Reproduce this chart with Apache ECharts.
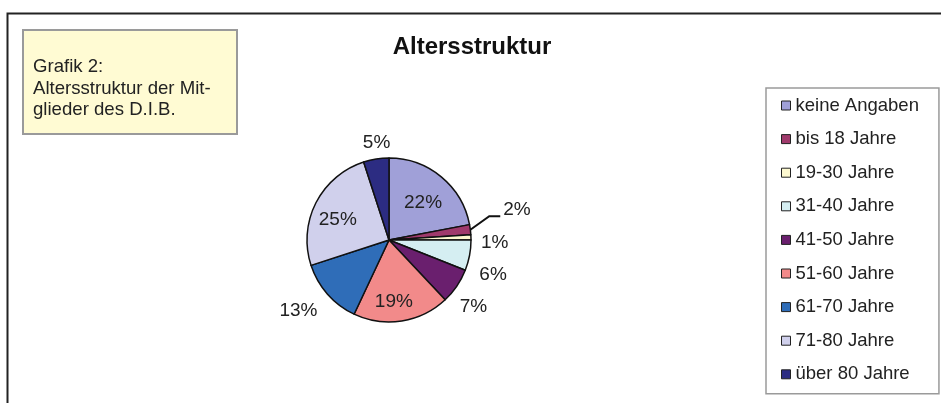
<!DOCTYPE html>
<html>
<head>
<meta charset="utf-8">
<script src="https://cdn.jsdelivr.net/npm/echarts@6/dist/echarts.min.js"></script>
<style>
  html, body { margin: 0; padding: 0; background: #fff; }
  #main { width: 941px; height: 403px; }
</style>
</head>
<body>
<div id="main"></div>
<script>
// Altersstruktur der Mitglieder (Anteile in %)
var categories = ['keine Angaben', 'bis 18 Jahre', '19-30 Jahre', '31-40 Jahre', '41-50 Jahre',
                  '51-60 Jahre', '61-70 Jahre', '71-80 Jahre', 'über 80 Jahre'];
var shares = [22, 2, 1, 6, 7, 19, 13, 25, 5];
var colors = ['#a0a0d8', '#a03a6c', '#fdf9d0', '#d5eef2', '#6a1f6e',
              '#f28a8a', '#2f6db8', '#d0d0ec', '#2c2c82'];
var insideLabels = ['keine Angaben', '51-60 Jahre', '71-80 Jahre'];
var withLeader = ['bis 18 Jahre'];

var font = '"Liberation Sans", Arial, sans-serif';

// kleine Verschiebungen der Beschriftungen (wie im Excel-Original)
var labelNudge = {
    'keine Angaben': [6, -3],
    'bis 18 Jahre': [8, -18],
    '19-30 Jahre': [-15, 6],
    '31-40 Jahre': [-15, 17],
    '41-50 Jahre': [-20, 14],
    '51-60 Jahre': [-2, 18],
    '61-70 Jahre': [12, 9],
    '71-80 Jahre': [-12, 0],
    'über 80 Jahre': [29, -4]
};

var pieData = [];
for (var i = 0; i < categories.length; i++) {
    var inside = insideLabels.indexOf(categories[i]) >= 0;
    pieData.push({
        name: categories[i],
        value: shares[i],
        itemStyle: { color: colors[i] },
        label: { position: inside ? 'inside' : 'outside' },
        labelLine: { show: withLeader.indexOf(categories[i]) >= 0 }
    });
}

var myChart = echarts.init(document.getElementById('main'), null, { renderer: 'canvas' });
myChart.setOption({
    backgroundColor: '#fff',
    animation: false,
    title: {
        text: 'Altersstruktur',
        left: 472,
        top: 35,
        textAlign: 'center',
        padding: 0,
        textStyle: { fontFamily: font, fontSize: 24, fontWeight: 'bold', color: '#111' }
    },
    legend: {
        orient: 'vertical',
        left: 766,
        top: 88,
        padding: [8, 20, 10, 15],
        itemGap: 14.6,
        itemWidth: 9,
        itemHeight: 9,
        icon: 'rect',
        borderColor: '#9a9a9a',
        borderWidth: 1.5,
        itemStyle: { borderColor: '#222', borderWidth: 1 },
        textStyle: { fontFamily: font, fontSize: 18.5, lineHeight: 18, color: '#222' },
        data: categories
    },
    graphic: [
        {
            type: 'polyline',
            shape: { points: [[7.5, 403], [7.5, 13.5], [941, 13.5]] },
            style: { stroke: '#222', lineWidth: 2, fill: null }
        },
        {
            type: 'rect',
            shape: { x: 23, y: 30, width: 214, height: 104 },
            style: { fill: '#fffbd3', stroke: '#9a9a9a', lineWidth: 2 }
        },
        {
            type: 'text',
            left: 33,
            top: 56,
            style: {
                text: 'Grafik 2:\nAltersstruktur der Mit-\nglieder des D.I.B.',
                font: '18.6px ' + font,
                lineHeight: 21.7,
                fill: '#222'
            }
        }
    ],
    series: [{
        type: 'pie',
        center: [389, 240],
        radius: 82,
        startAngle: 90,
        clockwise: true,
        avoidLabelOverlap: false,
        itemStyle: { borderColor: '#111', borderWidth: 1.5 },
        label: {
            formatter: '{c}%',
            fontFamily: font,
            fontSize: 19,
            color: '#222'
        },
        labelLine: {
            length: 12,
            length2: 8,
            lineStyle: { color: '#111', width: 2 }
        },
        labelLayout: function (params) {
            var name = categories[params.dataIndex];
            var n = labelNudge[name] || [0, 0];
            var out = { dx: n[0], dy: n[1] };
            if (withLeader.indexOf(name) >= 0 && params.labelLinePoints) {
                // Linie vom Tortenrand zur verschobenen Beschriftung
                var r = params.labelRect;
                var end = [r.x + n[0] - 3, r.y + r.height / 2 + n[1] + 6];
                var start = params.labelLinePoints[0];
                out.labelLinePoints = [start, [end[0] - 11, end[1]], end];
            }
            return out;
        },
        emphasis: { disabled: true },
        data: pieData
    }]
});
</script>
</body>
</html>
